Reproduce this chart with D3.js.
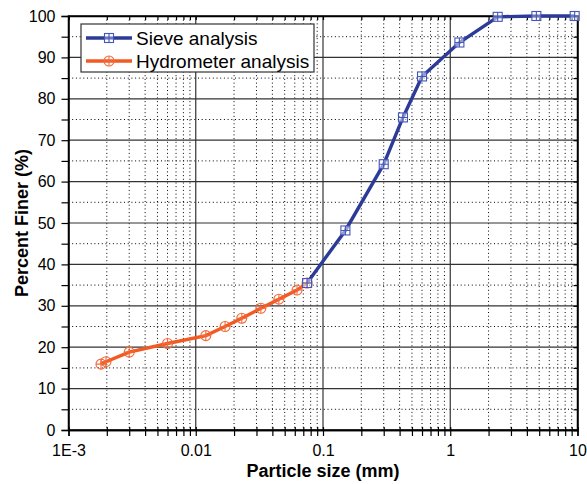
<!DOCTYPE html>
<html lang="en">
<head>
<meta charset="UTF-8">
<title>Particle size distribution</title>
<script src="https://d3js.org/d3.v7.min.js"></script>
<style>
  body { margin: 0; background: #fff; }
  svg text { font-family: "Liberation Sans", Arial, sans-serif; }
</style>
</head>
<body>
<svg width="587" height="484"></svg>
<script>
// sieve analysis (mm, % finer)
var sieveSize  = [0.075, 0.15, 0.3, 0.425, 0.6, 1.18, 2.36, 4.75, 9.5];
var sieveFiner = [35.5, 48.2, 64.2, 75.5, 85.4, 93.6, 99.8, 100, 100];

// hydrometer analysis
var hydroSize  = [0.0018, 0.00197, 0.003, 0.006, 0.012, 0.017, 0.023, 0.0325, 0.045, 0.0625, 0.075];
var hydroFiner = [15.9, 16.5, 18.8, 20.9, 22.8, 25.0, 27.0, 29.4, 31.6, 33.8, 35.5];

var xMajor = [0.001, 0.01, 0.1, 1, 10];
var xLabels = ["1E-3", "0.01", "0.1", "1", "10"];
var yMajor = [0, 10, 20, 30, 40, 50, 60, 70, 80, 90, 100];
var yMinor = [5, 15, 25, 35, 45, 55, 65, 75, 85, 95];

var svg = d3.select("svg");
var pL = 68.5, pR = 577.5, pT = 16, pB = 430;

var x = d3.scaleLog().domain([0.001, 10]).range([pL, pR]);
var y = d3.scaleLinear().domain([0, 100]).range([pB, pT]);

// minor x positions 2..9 per decade
var xMinor = [];
xMajor.slice(0, -1).forEach(function(d) {
  for (var k = 2; k <= 9; k++) xMinor.push(d * k);
});

var blue = "#2c3a98", orange = "#f15a22";

// dotted minor grid
var grid = svg.append("g");
grid.selectAll(".vminor").data(xMinor).enter().append("line")
  .attr("x1", d => x(d)).attr("x2", d => x(d))
  .attr("y1", pT).attr("y2", pB)
  .attr("stroke", "#000").attr("stroke-width", 1)
  .attr("stroke-dasharray", "1,2.7");
grid.selectAll(".hminor").data(yMinor).enter().append("line")
  .attr("x1", pL).attr("x2", pR)
  .attr("y1", d => y(d)).attr("y2", d => y(d))
  .attr("stroke", "#000").attr("stroke-width", 1)
  .attr("stroke-dasharray", "1,2.7");

// solid major grid
grid.selectAll(".vmajor").data(xMajor.slice(1, -1)).enter().append("line")
  .attr("x1", d => x(d)).attr("x2", d => x(d))
  .attr("y1", pT).attr("y2", pB)
  .attr("stroke", "#333").attr("stroke-width", 1.2);
grid.selectAll(".hmajor").data(yMajor.slice(1, -1)).enter().append("line")
  .attr("x1", pL).attr("x2", pR)
  .attr("y1", d => y(d)).attr("y2", d => y(d))
  .attr("stroke", "#333").attr("stroke-width", 1.2);

// axes
var xTicks = xMajor.concat(xMinor);
svg.append("g")
  .attr("transform", "translate(0," + pB + ")")
  .call(d3.axisBottom(x).tickValues(xTicks).tickSize(6).tickPadding(9)
    .tickFormat(function(d) {
      var i = xMajor.indexOf(d);
      return i >= 0 ? xLabels[i] : "";
    }));
svg.append("g")
  .attr("transform", "translate(0," + pT + ")")
  .call(d3.axisBottom(x).tickValues(xTicks).tickSize(4).tickFormat(""));
svg.append("g")
  .attr("transform", "translate(0," + pB + ")")
  .call(d3.axisTop(x).tickValues(xTicks).tickSize(3).tickFormat(""));

svg.append("g")
  .attr("transform", "translate(" + pL + ",0)")
  .call(d3.axisLeft(y).tickValues(yMajor.concat(yMinor)).tickSize(7).tickPadding(6)
    .tickFormat(function(d) { return d % 10 === 0 ? d : ""; }));
svg.append("g")
  .attr("transform", "translate(" + pR + ",0)")
  .call(d3.axisLeft(y).tickValues(yMajor.concat(yMinor)).tickSize(4).tickFormat(""));

svg.selectAll(".domain").attr("stroke", "#000").attr("stroke-width", 1.5);
svg.selectAll(".tick line").attr("stroke", "#000").attr("stroke-width", 1.2);
svg.selectAll(".tick text").attr("font-size", "16px").attr("fill", "#000")
  .style("font-family", "'Liberation Sans', Arial, sans-serif");

// frame
svg.append("rect")
  .attr("x", pL).attr("y", pT)
  .attr("width", pR - pL).attr("height", pB - pT)
  .attr("fill", "none").attr("stroke", "#000").attr("stroke-width", 1.5);

// data lines
var sieve = sieveSize.map((d, i) => ({s: d, f: sieveFiner[i]}));
var hydro = hydroSize.map((d, i) => ({s: d, f: hydroFiner[i]}));

var line = d3.line().x(d => x(d.s)).y(d => y(d.f));

svg.append("path").datum(sieve)
  .attr("d", line).attr("fill", "none")
  .attr("stroke", blue).attr("stroke-width", 3.4);
svg.append("path").datum(hydro)
  .attr("d", line).attr("fill", "none")
  .attr("stroke", orange).attr("stroke-width", 3.4);

function squareMark(g, cx, cy, col) {
  g.append("rect").attr("x", cx - 4.5).attr("y", cy - 4.5)
    .attr("width", 9).attr("height", 9)
    .attr("fill", "#fff").attr("fill-opacity", 0.5)
    .attr("stroke", col).attr("stroke-width", 1.1);
  g.append("path")
    .attr("d", "M" + (cx - 4.5) + "," + cy + "H" + (cx + 4.5) + "M" + cx + "," + (cy - 4.5) + "V" + (cy + 4.5))
    .attr("stroke", col).attr("stroke-width", 1.1);
}
function circleMark(g, cx, cy, col) {
  g.append("circle").attr("cx", cx).attr("cy", cy).attr("r", 5)
    .attr("fill", "none").attr("stroke", col).attr("stroke-width", 1.1);
  g.append("path")
    .attr("d", "M" + (cx - 5) + "," + cy + "H" + (cx + 5) + "M" + cx + "," + (cy - 5) + "V" + (cy + 5))
    .attr("stroke", col).attr("stroke-width", 1.1);
}

var markBlue = "#4455bb", markOrange = "#f26a3a";
var mg = svg.append("g");
hydro.forEach(d => circleMark(mg, x(d.s), y(d.f), markOrange));
sieve.forEach(d => squareMark(mg, x(d.s), y(d.f), markBlue));

// legend
var lg = svg.append("g");
lg.append("rect").attr("x", 81).attr("y", 24).attr("width", 233).attr("height", 48)
  .attr("fill", "#fff").attr("stroke", "#333").attr("stroke-width", 1.2);
var legendItems = [
  {name: "Sieve analysis", col: blue, mk: markBlue, type: "sq"},
  {name: "Hydrometer analysis", col: orange, mk: markOrange, type: "ci"}
];
legendItems.forEach(function(it, i) {
  var ly = 38 + i * 23;
  lg.append("line").attr("x1", 86).attr("x2", 132).attr("y1", ly).attr("y2", ly)
    .attr("stroke", it.col).attr("stroke-width", 3.4);
  if (it.type === "sq") squareMark(lg, 109, ly, it.mk);
  else circleMark(lg, 109, ly, it.mk);
  lg.append("text").attr("x", 136).attr("y", ly + 7)
    .attr("font-size", "19px").attr("fill", "#000").text(it.name);
});

// axis titles
svg.append("text")
  .attr("x", (pL + pR) / 2).attr("y", 477)
  .attr("text-anchor", "middle").attr("font-size", "18px").attr("font-weight", "bold")
  .text("Particle size (mm)");
svg.append("text")
  .attr("transform", "translate(28," + ((pT + pB) / 2) + ") rotate(-90)")
  .attr("text-anchor", "middle").attr("font-size", "18px").attr("font-weight", "bold")
  .text("Percent Finer (%)");
</script>
</body>
</html>
